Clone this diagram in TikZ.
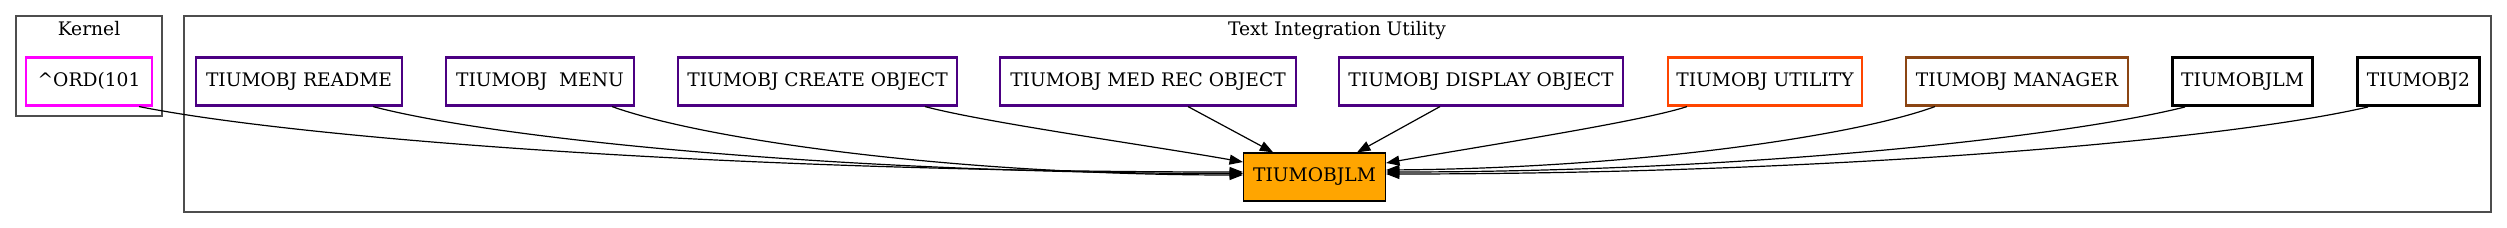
\documentclass[tikz,border=0pt]{standalone}
\usepackage{fontspec}
\setmainfont{DejaVu Serif}
\usetikzlibrary{arrows.meta}
\definecolor{indigo}{HTML}{4B0082}
\definecolor{magentaX}{HTML}{FF00FF}
\definecolor{orangered}{HTML}{FF4500}
\definecolor{saddlebrown}{HTML}{8B4513}
\definecolor{orangefill}{HTML}{FFA500}
\definecolor{clustergray}{HTML}{4D4D4D}
\tikzset{
  box/.style={draw, rectangle, inner sep=0pt, minimum height=36pt,
    font=\fontsize{14pt}{16pt}\selectfont, text height=10.2pt, text depth=3pt},
  cbox/.style={box, line width=1.6pt},
  pbox/.style={cbox, draw=indigo},
  blackbox/.style={box, draw=black, line width=2.2pt},
  cluster/.style={draw=clustergray, line width=1.1pt},
  clabel/.style={anchor=base, inner sep=0pt, font=\fontsize{14pt}{16pt}\selectfont},
  edge/.style={draw=black, line width=0.9pt, -{Triangle[length=10pt,width=7.5pt]}}
}
\begin{document}
\begin{tikzpicture}[x=0.75pt,y=-0.75pt]
\useasboundingbox (0,0) rectangle (2507,228);
% clusters
\draw[cluster] (16,16) rectangle (162,116);
\draw[cluster] (184,16) rectangle (2491,212);
\node[clabel] (klabel) at (89,36) {Kernel};
\node[clabel] (tlabel) at (1337,36) {Text Integration Utility};
% nodes
\node[cbox, draw=magentaX, minimum width=94pt] (ord) at (89,81.5) {\textasciicircum ORD(101};
\node[pbox, minimum width=155pt] (readme) at (299,81.5) {TIUMOBJ README};
\node[pbox, minimum width=141.5pt] (menu) at (540,81.5) {TIUMOBJ~~MENU};
\node[pbox, minimum width=209.75pt] (create) at (817.5,81.5) {TIUMOBJ CREATE OBJECT};
\node[pbox, minimum width=222.5pt] (medrec) at (1148,81.5) {TIUMOBJ MED REC OBJECT};
\node[pbox, minimum width=213.5pt] (display) at (1481,81.5) {TIUMOBJ DISPLAY OBJECT};
\node[cbox, draw=orangered, minimum width=146pt] (utility) at (1765,81.5) {TIUMOBJ UTILITY};
\node[cbox, draw=saddlebrown, minimum width=167pt] (manager) at (2017,81.5) {TIUMOBJ MANAGER};
\node[blackbox, minimum width=105.5pt] (toplm) at (2242.5,81.5) {TIUMOBJLM};
\node[blackbox, minimum width=92pt] (obj2) at (2418.5,81.5) {TIUMOBJ2};
\node[box, draw=black, line width=0.9pt, fill=orangefill, minimum width=106.5pt] (tgt) at (1314.5,177) {TIUMOBJLM};
% edges
\draw[edge] ([xshift=37.5pt]ord.south) .. controls +(166,33) and +(-497,0) .. ([yshift=3.75pt]tgt.west);
\draw[edge] ([xshift=55.5pt]readme.south) .. controls +(130,34) and +(-390,0) .. ([yshift=2.6pt]tgt.west);
\draw[edge] ([xshift=54pt]menu.south) .. controls +(95,34) and +(-284,0) .. ([yshift=1.5pt]tgt.west);
\draw[edge] ([xshift=80.6pt]create.south) .. controls +(60,16) and +(-90,-16) .. ([yshift=11.25pt]tgt.west);
\draw[edge] ([xshift=30pt]medrec.south) -- ([xshift=-31pt]tgt.north);
\draw[edge] ([xshift=-30.75pt]display.south) -- ([xshift=31.9pt]tgt.north);
\draw[edge] ([xshift=-58.5pt]utility.south) .. controls +(-45,15) and +(90,-16) .. ([yshift=10.5pt]tgt.east);
\draw[edge] ([xshift=-61.5pt]manager.south) .. controls +(-82,30) and +(247,-2) .. ([yshift=5.25pt]tgt.east);
\draw[edge] ([xshift=-43.1pt]toplm.south) .. controls +(-120,30) and +(360,0) .. ([yshift=3.75pt]tgt.east);
\draw[edge] ([xshift=-37.9pt]obj2.south) .. controls +(-147,34) and +(442,0) .. ([yshift=2.25pt]tgt.east);
\end{tikzpicture}
\end{document}
